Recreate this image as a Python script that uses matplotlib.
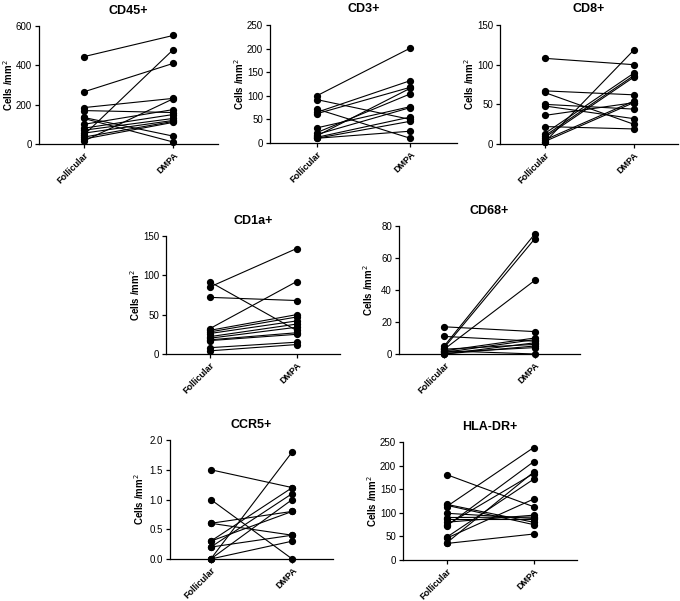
import matplotlib
matplotlib.use("Agg")
import matplotlib.pyplot as plt

plt.rcParams["font.family"] = ["Liberation Sans", "DejaVu Sans"]

GROUPS = ["Follicular", "DMPA"]

cd45_fol = [444, 265, 185, 170, 135, 100, 80, 70, 55, 45, 35, 25, 15, 130]
cd45_dmpa = [552, 410, 232, 160, 40, 175, 150, 130, 120, 480, 115, 110, 230, 10]

cd3_fol = [100, 92, 72, 65, 62, 32, 22, 18, 15, 12, 10, 10]
cd3_dmpa = [201, 50, 10, 132, 118, 77, 104, 75, 116, 55, 25, 46]

cd8_fol = [108, 67, 65, 50, 48, 36, 22, 13, 10, 8, 5, 3, 2]
cd8_dmpa = [100, 62, 25, 44, 32, 52, 19, 89, 86, 84, 54, 52, 118]

cd1a_fol = [85, 92, 72, 32, 30, 28, 26, 22, 20, 18, 17, 8, 4]
cd1a_dmpa = [134, 30, 68, 92, 50, 47, 42, 38, 34, 27, 25, 15, 12]

cd68_fol = [17, 11, 5, 4, 3, 2, 1, 0, 0, 1, 2, 3]
cd68_dmpa = [14, 8, 75, 72, 46, 10, 9, 7, 5, 4, 0, 6]

ccr5_fol = [1.5, 1.0, 0.6, 0.6, 0.3, 0.3, 0.2, 0.2, 0.0, 0.0, 0.0]
ccr5_dmpa = [1.2, 0.0, 0.4, 0.8, 1.2, 0.8, 1.1, 0.4, 1.8, 1.0, 0.3]

hla_fol = [181, 118, 116, 113, 99, 90, 86, 80, 74, 72, 48, 46, 36, 35]
hla_dmpa = [113, 80, 75, 238, 88, 91, 86, 95, 183, 208, 171, 129, 186, 55]

# (title, follicular, dmpa, ymax, ystep, pixel box x0, x1, ytop, ybottom, tick fmt)
panels = [
    ("CD45+", cd45_fol, cd45_dmpa, 600, 200, (39, 218, 26, 144), "{:.0f}"),
    ("CD3+", cd3_fol, cd3_dmpa, 250, 50, (270, 457, 25, 143), "{:.0f}"),
    ("CD8+", cd8_fol, cd8_dmpa, 150, 50, (500, 678, 25, 144), "{:.0f}"),
    ("CD1a+", cd1a_fol, cd1a_dmpa, 150, 50, (166, 340, 236, 354), "{:.0f}"),
    ("CD68+", cd68_fol, cd68_dmpa, 80, 20, (399, 580, 226, 354), "{:.0f}"),
    ("CCR5+", ccr5_fol, ccr5_dmpa, 2.0, 0.5, (170, 333, 440, 559), "{:.1f}"),
    ("HLA-DR+", hla_fol, hla_dmpa, 250, 50, (403, 577, 442, 560), "{:.0f}"),
]

W, H = 680, 601
fig = plt.figure(figsize=(W / 100, H / 100), dpi=100)
fig.patch.set_facecolor("white")

for title, fol, dmpa, ymax, ystep, box, fmt in panels:
    x0, x1, yt, yb = box
    ax = fig.add_axes([x0 / W, 1 - yb / H, (x1 - x0) / W, (yb - yt) / H])
    for a, b in zip(fol, dmpa):
        ax.plot([0, 1], [a, b], "-", color="black", linewidth=0.8,
                marker="o", markersize=4.2, clip_on=False, zorder=3)
    ax.set_xlim(-0.5, 1.5)
    ax.set_ylim(0, ymax)
    nt = int(round(ymax / ystep))
    ticks = [i * ystep for i in range(nt + 1)]
    ax.set_yticks(ticks)
    ax.set_yticklabels([fmt.format(t) for t in ticks], fontsize=7)
    ax.set_xticks([0, 1])
    ax.set_xticklabels(GROUPS, rotation=45, ha="right", rotation_mode="anchor",
                       fontsize=6.5, fontweight="bold")
    for s in ("top", "right"):
        ax.spines[s].set_visible(False)
    for s in ("left", "bottom"):
        ax.spines[s].set_linewidth(0.9)
    ax.tick_params(direction="out", length=3, width=0.9, pad=2)
    ax.set_title(title, fontsize=9, fontweight="bold", pad=9)
    ax.set_ylabel("Cells /mm$^2$", fontsize=7, fontweight="bold")
    ax.yaxis.set_label_coords(-24 / (x1 - x0), 0.5)

plt.savefig("out.png", dpi=100)
